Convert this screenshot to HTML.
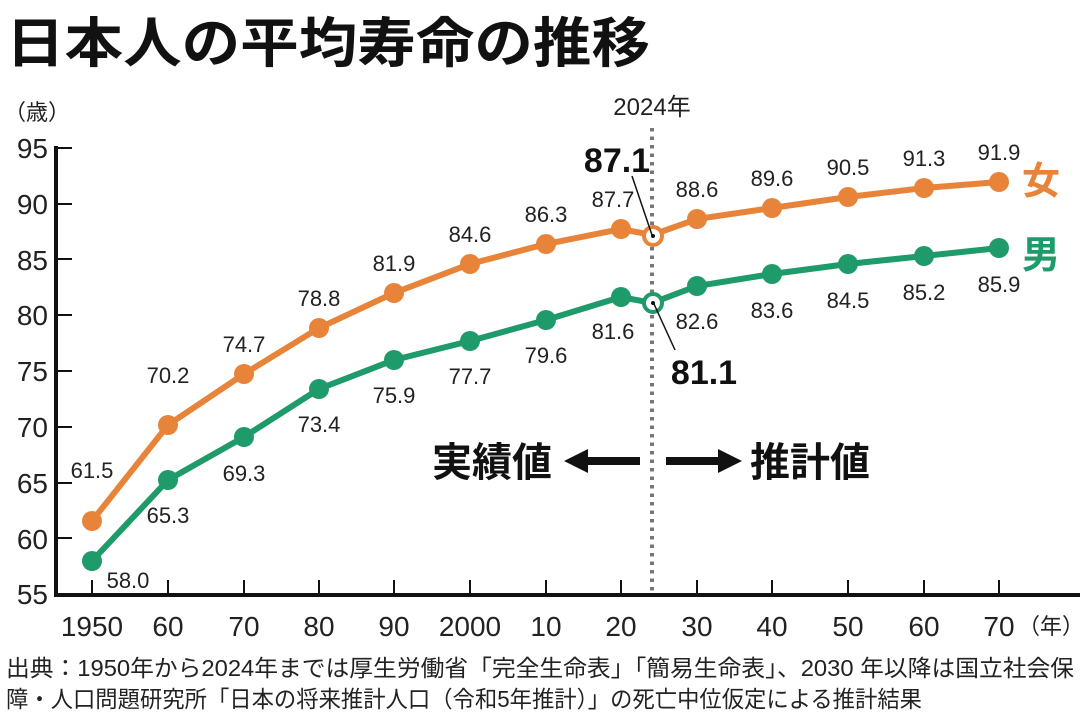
<!DOCTYPE html>
<html><head><meta charset="utf-8"><style>
body{margin:0;background:#fff;}
svg text{font-family:"Liberation Sans","Noto Sans CJK JP",sans-serif;}
</style></head><body>
<svg width="1080" height="718" viewBox="0 0 1080 718" xmlns="http://www.w3.org/2000/svg">
<text x="6" y="62" font-size="54" font-weight="bold" fill="#111" font-family="'Noto Sans CJK JP',sans-serif" textLength="644" lengthAdjust="spacingAndGlyphs">日本人の平均寿命の推移</text>
<text x="4" y="120" font-size="22" fill="#222">（歳）</text>
<g font-size="28" fill="#222" text-anchor="end">
<text x="48" y="158">95</text><text x="48" y="214">90</text><text x="48" y="270">85</text><text x="48" y="325">80</text><text x="48" y="381">75</text><text x="48" y="437">70</text><text x="48" y="493">65</text><text x="48" y="549">60</text><text x="48" y="604">55</text>
</g>
<g stroke="#111" stroke-width="2">
<line x1="55" y1="148" x2="72" y2="148"/><line x1="55" y1="204" x2="72" y2="204"/><line x1="55" y1="259" x2="72" y2="259"/><line x1="55" y1="315" x2="72" y2="315"/><line x1="55" y1="371" x2="72" y2="371"/><line x1="55" y1="427" x2="72" y2="427"/><line x1="55" y1="483" x2="72" y2="483"/><line x1="55" y1="538" x2="72" y2="538"/>
<line x1="92" y1="580" x2="92" y2="595"/><line x1="168" y1="580" x2="168" y2="595"/><line x1="244" y1="580" x2="244" y2="595"/><line x1="319" y1="580" x2="319" y2="595"/><line x1="394" y1="580" x2="394" y2="595"/><line x1="470" y1="580" x2="470" y2="595"/><line x1="546" y1="580" x2="546" y2="595"/><line x1="621" y1="580" x2="621" y2="595"/><line x1="697" y1="580" x2="697" y2="595"/><line x1="772" y1="580" x2="772" y2="595"/><line x1="848" y1="580" x2="848" y2="595"/><line x1="924" y1="580" x2="924" y2="595"/><line x1="999" y1="580" x2="999" y2="595"/>
</g>
<path d="M56 146 V595 H1080" fill="none" stroke="#111" stroke-width="4"/>
<g font-size="28" fill="#222" text-anchor="middle">
<text x="92" y="636">1950</text><text x="168" y="636">60</text><text x="244" y="636">70</text><text x="319" y="636">80</text><text x="394" y="636">90</text><text x="470" y="636">2000</text><text x="546" y="636">10</text><text x="621" y="636">20</text><text x="697" y="636">30</text><text x="772" y="636">40</text><text x="848" y="636">50</text><text x="924" y="636">60</text><text x="999" y="636">70</text>
</g>
<text x="1018" y="634" font-size="22" fill="#222">（年）</text>
<line x1="652" y1="128" x2="652" y2="595" stroke="#777" stroke-width="4" stroke-dasharray="3.5,5"/>
<text x="652" y="115" font-size="24" fill="#222" text-anchor="middle">2024年</text>
<polyline fill="none" stroke="#e8843a" stroke-width="6" points="92,521 168,425 244,374 319,328 394,293 470,264 546,244 621,229 652,235 697,219 772,208 848,197 924,188 999,182"/>
<polyline fill="none" stroke="#1f9a6a" stroke-width="6" points="92,561 168,480 244,437 319,389 394,360 470,341 546,320 621,297 652,303 697,286 772,274 848,264 924,256 999,248"/>
<g fill="#e8843a">
<circle cx="92" cy="521" r="10"/><circle cx="168" cy="425" r="10"/><circle cx="244" cy="374" r="10"/><circle cx="319" cy="328" r="10"/><circle cx="394" cy="293" r="10"/><circle cx="470" cy="264" r="10"/><circle cx="546" cy="244" r="10"/><circle cx="621" cy="229" r="10"/><circle cx="697" cy="219" r="10"/><circle cx="772" cy="208" r="10"/><circle cx="848" cy="197" r="10"/><circle cx="924" cy="188" r="10"/><circle cx="999" cy="182" r="10"/>
</g>
<g fill="#1f9a6a">
<circle cx="92" cy="561" r="10"/><circle cx="168" cy="480" r="10"/><circle cx="244" cy="437" r="10"/><circle cx="319" cy="389" r="10"/><circle cx="394" cy="360" r="10"/><circle cx="470" cy="341" r="10"/><circle cx="546" cy="320" r="10"/><circle cx="621" cy="297" r="10"/><circle cx="697" cy="286" r="10"/><circle cx="772" cy="274" r="10"/><circle cx="848" cy="264" r="10"/><circle cx="924" cy="256" r="10"/><circle cx="999" cy="248" r="10"/>
</g>
<circle cx="653" cy="236" r="9" fill="#fff" stroke="#e8843a" stroke-width="4"/>
<circle cx="653" cy="303" r="9" fill="#fff" stroke="#1f9a6a" stroke-width="4"/>
<circle cx="653" cy="236" r="2" fill="#111"/><circle cx="653" cy="303" r="2" fill="#111"/>
<line x1="632" y1="176" x2="652" y2="235" stroke="#111" stroke-width="1.5"/>
<line x1="654" y1="304" x2="675" y2="350" stroke="#111" stroke-width="1.5"/>
<g font-size="22" fill="#222" text-anchor="middle">
<text x="92" y="478">61.5</text><text x="168" y="383">70.2</text><text x="244" y="352">74.7</text><text x="319" y="306">78.8</text><text x="394" y="271">81.9</text><text x="470" y="242">84.6</text><text x="546" y="222">86.3</text><text x="613" y="207">87.7</text><text x="697" y="197">88.6</text><text x="772" y="186">89.6</text><text x="848" y="175">90.5</text><text x="924" y="166">91.3</text><text x="999" y="160">91.9</text>
<text x="128" y="588">58.0</text><text x="168" y="523">65.3</text><text x="244" y="481">69.3</text><text x="319" y="432">73.4</text><text x="394" y="403">75.9</text><text x="470" y="384">77.7</text><text x="546" y="363">79.6</text><text x="613" y="339">81.6</text><text x="697" y="329">82.6</text><text x="772" y="318">83.6</text><text x="848" y="308">84.5</text><text x="924" y="300">85.2</text><text x="999" y="292">85.9</text>
</g>
<text x="617" y="172" font-size="34" font-weight="bold" fill="#111" text-anchor="middle">87.1</text>
<text x="704" y="384" font-size="34" font-weight="bold" fill="#111" text-anchor="middle">81.1</text>
<text x="1022" y="194" font-size="38" font-weight="bold" fill="#e8843a" font-family="'Noto Sans CJK JP',sans-serif">女</text>
<text x="1022" y="268" font-size="38" font-weight="bold" fill="#1f9a6a" font-family="'Noto Sans CJK JP',sans-serif">男</text>
<text x="432" y="476" font-size="40" font-weight="bold" fill="#111" font-family="'Noto Sans CJK JP',sans-serif">実績値</text>
<text x="750" y="476" font-size="40" font-weight="bold" fill="#111" font-family="'Noto Sans CJK JP',sans-serif">推計値</text>
<path d="M640 457 H588 V449 L564 461 L588 473 V465 H640 Z" fill="#111"/>
<path d="M666 457 H718 V449 L742 461 L718 473 V465 H666 Z" fill="#111"/>
<text x="6" y="676" font-size="23" fill="#222" textLength="1068" lengthAdjust="spacingAndGlyphs">出典：1950年から2024年までは厚生労働省「完全生命表」「簡易生命表」、2030 年以降は国立社会保</text>
<text x="6" y="707" font-size="23" fill="#222" textLength="916" lengthAdjust="spacingAndGlyphs">障・人口問題研究所「日本の将来推計人口（令和5年推計）」の死亡中位仮定による推計結果</text>
</svg>
</body></html>
